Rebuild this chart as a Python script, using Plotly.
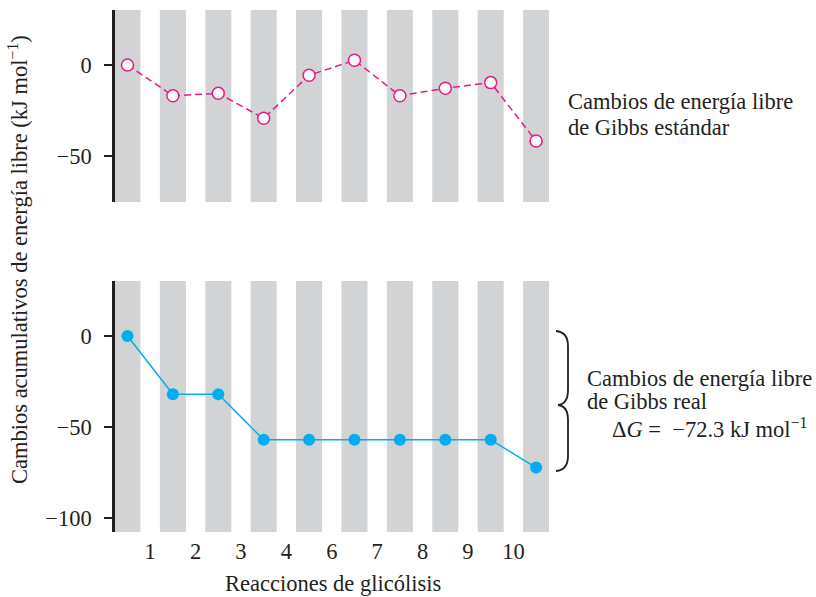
import plotly.graph_objects as go

# ---- data ----
steps = list(range(10))                      # 10 glycolysis steps (band index)
standard_dG = [0, -16.9, -15.6, -29.3, -5.7, 2.6, -16.9, -12.8, -9.7, -41.8]
actual_dG = [0, -32, -32, -57, -57, -57, -57, -57, -57, -72.3]
tick_pos = [1, 2, 3, 4, 5, 6, 7, 8, 9]
tick_labels = ["1", "2", "3", "4", "6", "7", "8", "9", "10"]
y_top_ticks = [0, -50]
y_bot_ticks = [0, -50, -100]

x_centers = [s + 0.5 for s in steps]

MAGENTA = "#e8198b"
CYAN = "#00aeef"
BAND = "#d1d3d4"
INK = "#231f20"
FONT = "Liberation Serif"
FS = 22.5

W, H = 816, 597
ML, MR, MT, MB = 115, 267, 10, 65
PW = W - ML - MR
PH = H - MT - MB


def px(xp):
    return (xp - ML) / PW


def py(yp):
    return (H - MB - yp) / PH


fig = go.Figure()

fig.add_trace(go.Scatter(
    x=x_centers, y=standard_dG, xaxis="x2", yaxis="y2", mode="lines+markers",
    line=dict(color=MAGENTA, width=1.5, dash="7px,4px"),
    marker=dict(size=12, color="white", line=dict(color=MAGENTA, width=1.5)),
    showlegend=False, hoverinfo="x+y"))

fig.add_trace(go.Scatter(
    x=x_centers, y=actual_dG, xaxis="x", yaxis="y", mode="lines+markers",
    line=dict(color=CYAN, width=1.5),
    marker=dict(size=12, color=CYAN),
    showlegend=False, hoverinfo="x+y"))

shapes = []
half = 0.287
for c in x_centers:
    for xr, yr in (("x", "y domain"), ("x2", "y2 domain")):
        shapes.append(dict(type="rect", xref=xr, yref=yr, x0=c - half, x1=c + half,
                           y0=0, y1=1, fillcolor=BAND, line=dict(width=0), layer="below"))

# curly brace (paper coords)
def P(x, y):
    return f"{px(x):.5f},{py(y):.5f}"

brace = ("M " + P(556, 331) + " Q " + P(568, 332) + " " + P(568, 346) +
         " L " + P(568, 390) + " Q " + P(568, 404) + " " + P(558, 405) +
         " Q " + P(568, 406) + " " + P(568, 420) +
         " L " + P(568, 456) + " Q " + P(568, 470) + " " + P(556, 471))
shapes.append(dict(type="path", xref="paper", yref="paper", path=brace,
                   line=dict(color=INK, width=1.8)))


def note(x, y, text):
    return dict(xref="paper", yref="paper", x=px(x), y=py(y), text=text,
                align="left", showarrow=False, xanchor="left", yanchor="middle",
                font=dict(size=FS))


xr = [0.225, 0.225 + PW / 45.4]
axis_common = dict(showgrid=False, zeroline=False)
yax_common = dict(tickmode="array", ticks="outside", ticklen=8, tickwidth=2,
                  tickcolor=INK, showline=True, linewidth=2.5, linecolor=INK,
                  ticklabelstandoff=8, tickfont=dict(size=FS), **axis_common)
fig.update_layout(
    width=W, height=H,
    margin=dict(l=ML, r=MR, t=MT, b=MB),
    paper_bgcolor="white", plot_bgcolor="white",
    font=dict(family=FONT, size=FS, color=INK),
    shapes=shapes,
    xaxis=dict(domain=[0, 1], range=xr, anchor="y", tickmode="array",
               tickvals=tick_pos, ticktext=tick_labels, ticks="", showline=False,
               ticklabelstandoff=3, tickfont=dict(size=FS), **axis_common),
    xaxis2=dict(domain=[0, 1], range=xr, anchor="y2", matches="x",
                showticklabels=False, ticks="", showline=False, **axis_common),
    yaxis=dict(domain=[0, py(281)], range=[-107.7, 30.2], anchor="x",
               tickvals=y_bot_ticks, **yax_common),
    yaxis2=dict(domain=[py(202), 1], range=[-75.3, 30.2], anchor="x2",
                tickvals=y_top_ticks, **yax_common),
    annotations=[
        dict(xref="paper", yref="paper", x=px(18), y=py(260),
             text="Cambios acumulativos de energía libre (kJ mol<sup>−1</sup>)",
             textangle=-90, showarrow=False, xanchor="center", yanchor="middle",
             font=dict(size=FS)),
        dict(xref="paper", yref="paper", x=px(333), y=py(583), text="Reacciones de glicólisis",
             showarrow=False, xanchor="center", yanchor="middle", font=dict(size=FS)),
        note(566, 101, "Cambios de energía libre"),
        note(566, 127, "de Gibbs estándar"),
        note(585, 378, "Cambios de energía libre"),
        note(585, 401, "de Gibbs real"),
        note(610, 428, "Δ<i>G</i> =  −72.3 kJ mol<sup>−1</sup>"),
    ],
)

fig.write_html("out.html", config={"displayModeBar": False},
               post_script="document.body.style.margin='0';")
